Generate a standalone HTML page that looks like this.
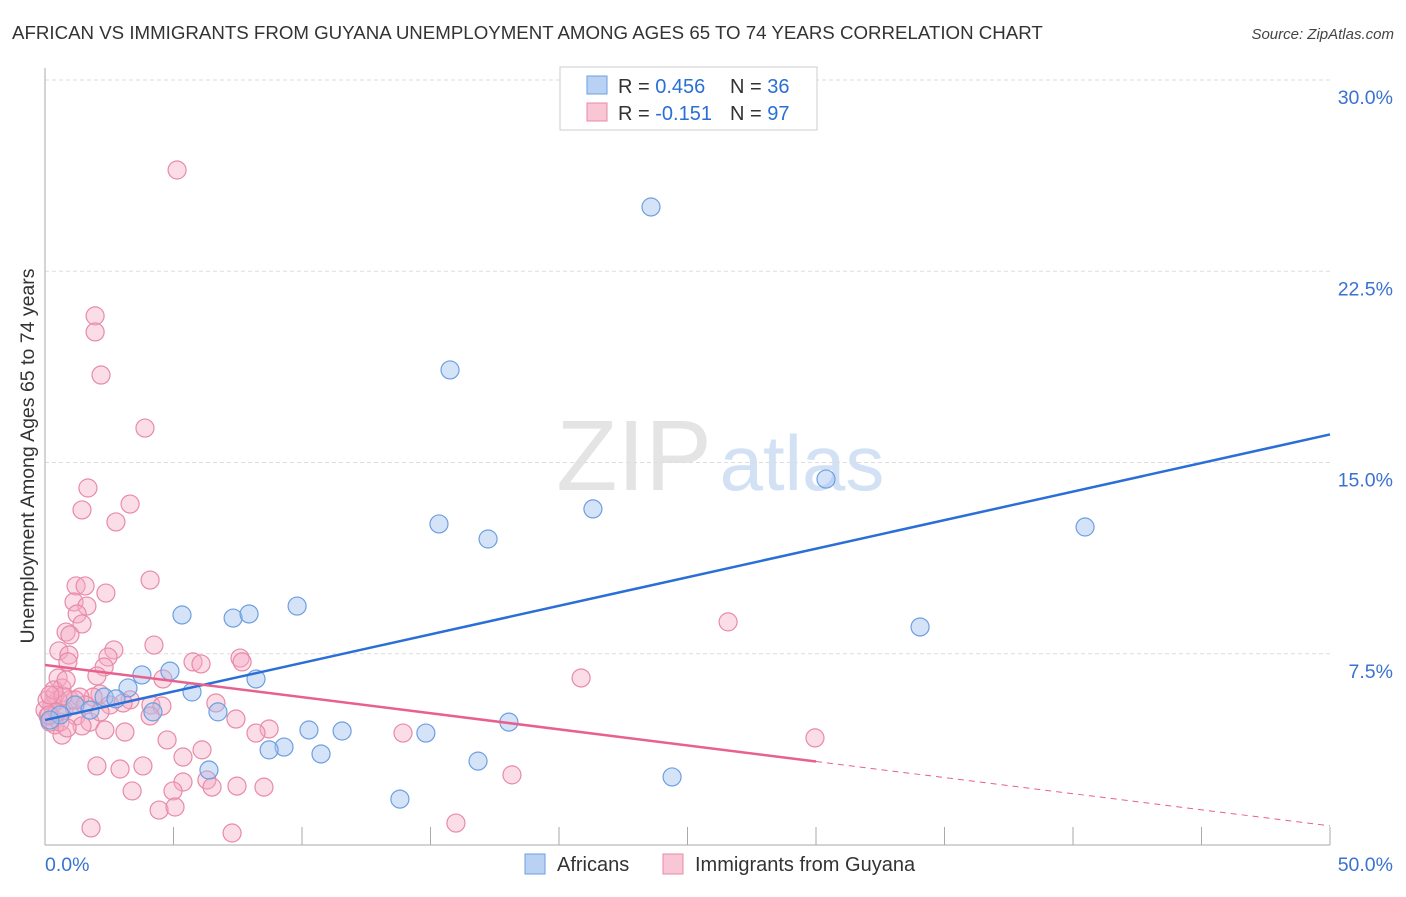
<!DOCTYPE html>
<html><head><meta charset="utf-8"><style>
body{margin:0;background:#fff;font-family:"Liberation Sans",sans-serif;}
svg text{font-family:"Liberation Sans",sans-serif;}
</style></head><body>
<svg id="chart" width="1406" height="892" viewBox="0 0 1406 892" xmlns="http://www.w3.org/2000/svg">
<text x="12" y="39" font-size="18.7" fill="#333">AFRICAN VS IMMIGRANTS FROM GUYANA UNEMPLOYMENT AMONG AGES 65 TO 74 YEARS CORRELATION CHART</text>
<text x="1394" y="39" font-size="15" fill="#444" text-anchor="end" font-style="italic">Source: ZipAtlas.com</text>
<g>
<text x="634" y="490" font-size="100" fill="#e4e4e4" text-anchor="middle" font-family="Liberation Serif, serif">ZIP</text>
<text x="802" y="490" font-size="78" fill="#d3e1f5" text-anchor="middle">atlas</text>
</g>
<g id="grid"></g>
<g id="axes"></g>
<g id="pts"></g>
<g id="trend"></g>
<text transform="translate(34,456) rotate(-90)" font-size="19.5" fill="#333" text-anchor="middle">Unemployment Among Ages 65 to 74 years</text>
<g>
<rect x="560" y="67" width="257" height="63" fill="#fff" stroke="#ccc"/>
<rect x="587" y="76" width="20" height="18" fill="#b9d2f3" stroke="#6d9fe0"/>
<rect x="587" y="103" width="20" height="18" fill="#f9c6d5" stroke="#e88aa8"/>
<text x="618" y="93" font-size="20" fill="#333">R = <tspan fill="#2a6fd6">0.456</tspan></text>
<text x="730" y="93" font-size="20" fill="#333">N = <tspan fill="#2a6fd6">36</tspan></text>
<text x="618" y="120" font-size="20" fill="#333">R = <tspan fill="#2a6fd6">-0.151</tspan></text>
<text x="730" y="120" font-size="20" fill="#333">N = <tspan fill="#2a6fd6">97</tspan></text>
</g>
<g>
<rect x="525" y="854" width="20" height="20" fill="#b9d2f3" stroke="#6d9fe0"/>
<text x="557" y="871" font-size="20" fill="#333">Africans</text>
<rect x="663" y="854" width="20" height="20" fill="#f9c6d5" stroke="#e88aa8"/>
<text x="695" y="871" font-size="20" fill="#333">Immigrants from Guyana</text>
</g>
</svg>
<script>
const xTicks=[0,5,10,15,20,25,30,35,40,45,50];
const yTicks=[7.5,15,22.5,30];
const yTickLabels=["7.5%","15.0%","22.5%","30.0%"];
const xEndLabels=["0.0%","50.0%"];
const africansX=[23.58,15.76,30.39,21.32,15.33,17.24,40.47,5.33,7.32,7.94,9.81,34.05,4.86,3.77,3.23,5.72,2.30,2.76,8.21,6.73,4.20,10.27,11.56,14.82,18.05,9.30,8.72,10.74,16.85,6.38,24.40,13.81,0.58,0.19,1.17,1.75];
const africansY=[25.02,18.63,14.35,13.18,12.59,12.0,12.47,9.02,8.9,9.06,9.37,8.55,6.82,6.67,6.16,6.0,5.80,5.73,6.51,5.22,5.22,4.51,4.47,4.39,4.82,3.84,3.73,3.57,3.29,2.94,2.67,1.80,5.10,4.90,5.49,5.29];
const guyanaX=[5.14,1.95,1.95,2.18,3.89,1.67,3.31,1.44,2.76,4.09,1.21,1.56,2.37,1.13,1.63,1.25,1.44,0.82,0.97,4.24,0.54,0.93,2.68,0.89,2.45,5.76,6.07,7.59,7.67,4.59,26.58,20.86,2.30,2.02,0.51,0.66,2.14,1.87,4.12,6.65,3.31,4.55,7.43,8.72,13.93,8.21,29.96,4.75,0.51,0.74,1.21,1.75,2.33,3.11,4.09,1.44,0.66,0.39,5.37,2.02,2.92,3.81,6.11,18.17,5.37,6.30,3.39,4.98,6.50,8.52,4.44,5.06,7.47,15.99,7.28,1.79,0,0.12,0.27,0.39,0.08,0.97,0.19,0.58,0.86,1.36,1.56,2.53,3.04,0.47,0.35,0.16,1.17,0.70,2.14,0.82,0.19];
const guyanaY=[26.47,20.75,20.12,18.43,16.35,14.0,13.37,13.14,12.67,10.39,10.16,10.16,9.88,9.53,9.37,9.06,8.67,8.35,8.24,7.84,7.61,7.45,7.65,7.18,7.37,7.18,7.10,7.33,7.18,6.51,8.75,6.55,6.98,6.63,6.55,6.16,5.92,5.80,5.49,5.57,5.69,5.45,4.94,4.55,4.39,4.39,4.20,4.12,5.69,5.29,5.06,4.82,4.51,4.43,5.06,4.67,4.31,4.71,3.45,3.10,2.98,3.10,3.73,2.75,2.47,2.55,2.12,2.12,2.27,2.27,1.37,1.49,2.31,0.86,0.47,0.67,5.29,5.06,5.49,5.88,5.69,5.69,4.82,4.82,4.59,5.80,5.49,5.49,5.57,5.22,6.08,5.10,5.69,5.84,5.22,6.47,5.88];
const africansTrend=[4.9,16.1];
const guyanaTrend=[7.06,0.75];
const guyanaSolidEnd=30;

const NS="http://www.w3.org/2000/svg";
const X0=45,X1=1330,Y0=845,Ytop=80;
const xs=v=>X0+(X1-X0)*v/50;
const ys=v=>Y0-(Y0-Ytop)*v/30;
function mk(tag,at,parent){const e=document.createElementNS(NS,tag);for(const k in at)e.setAttribute(k,at[k]);document.getElementById(parent).appendChild(e);return e;}
yTicks.forEach((t,i)=>{
  const g=mk('line',{x1:X0,x2:X1,y1:ys(t),y2:ys(t),stroke:'#ddd','stroke-dasharray':'4,3'},'grid');
  
  
  const l=mk('text',{x:1393,y:ys(t)+24,'font-size':19.5,fill:'#3a72d0','text-anchor':'end'},'grid');
  l.textContent=yTickLabels[i];
  
  
});
let ax=mk('line',{x1:X0,x2:X0,y1:68,y2:Y0,stroke:'#aaa'},'axes');


ax=mk('line',{x1:X0,x2:X1,y1:Y0,y2:Y0,stroke:'#aaa'},'axes');


xTicks.forEach(t=>{const tk=mk('line',{x1:xs(t),x2:xs(t),y1:Y0,y2:Y0-18,stroke:'#aaa'},'axes');
  
  });
[[0,'start',45],[50,'end',1393]].forEach((d,i)=>{const l=mk('text',{x:d[2],y:871,'font-size':19.5,fill:'#3a72d0','text-anchor':d[1]},'axes');l.textContent=xEndLabels[i];
  
  });
guyanaX.forEach((v,i)=>{const c=mk('circle',{cx:xs(v),cy:ys(guyanaY[i]),r:9,fill:'rgba(246,170,194,0.4)',stroke:'#e88aa8','stroke-width':1.2},'pts');
  
  });
africansX.forEach((v,i)=>{const c=mk('circle',{cx:xs(v),cy:ys(africansY[i]),r:9,fill:'rgba(160,194,240,0.45)',stroke:'#6d9fe0','stroke-width':1.2},'pts');
  
  });
let tl=mk('line',{x1:xs(0),y1:ys(africansTrend[0]),x2:xs(50),y2:ys(africansTrend[1]),stroke:'#2a6fd6','stroke-width':2.5},'trend');


const gy=x=>guyanaTrend[0]+(guyanaTrend[1]-guyanaTrend[0])*x/50;
tl=mk('line',{x1:xs(0),y1:ys(gy(0)),x2:xs(guyanaSolidEnd),y2:ys(gy(guyanaSolidEnd)),stroke:'#e8608e','stroke-width':2.5},'trend');


tl=mk('line',{x1:xs(guyanaSolidEnd),y1:ys(gy(guyanaSolidEnd)),x2:xs(50),y2:ys(gy(50)),stroke:'#e8608e','stroke-width':1,'stroke-dasharray':'6,5'},'trend');


</script>
</body></html>
